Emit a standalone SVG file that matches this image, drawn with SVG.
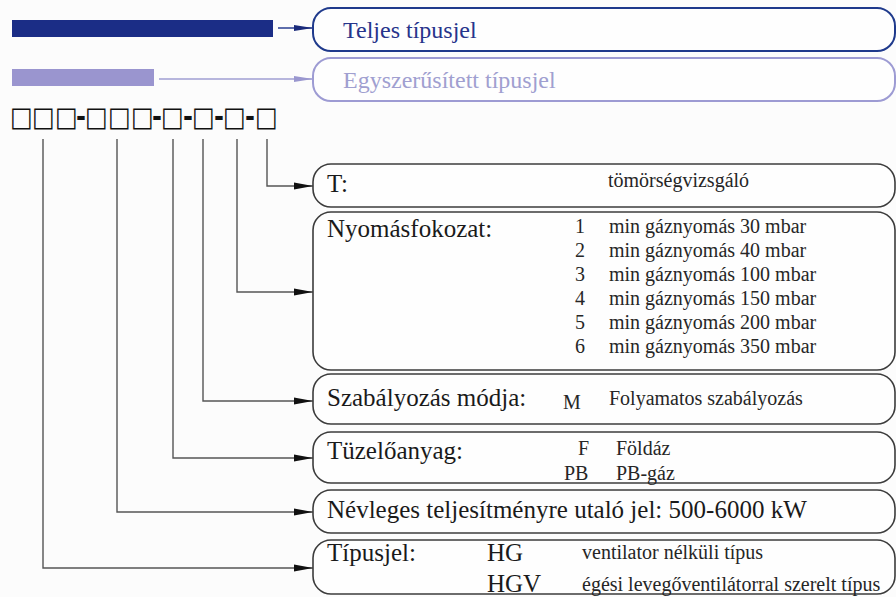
<svg xmlns="http://www.w3.org/2000/svg" width="896" height="597" viewBox="0 0 896 597">
<style>
text{font-family:"Liberation Serif","Times New Roman",serif;fill:#1a1a1a}
.main{font-size:25px}
.sub{font-size:20px;fill:#262626}
.box{fill:#fefefe;stroke:#3c3c3c;stroke-width:1.6}
.conn{fill:none;stroke:#555;stroke-width:1.4}
</style>
<defs>
<marker id="ah" markerUnits="userSpaceOnUse" markerWidth="20" markerHeight="8" refX="19" refY="4" orient="auto"><path d="M0,0.5 L19,4 L0,7.5 z" fill="#111"/></marker>
<marker id="ahBlue" markerUnits="userSpaceOnUse" markerWidth="20" markerHeight="8" refX="19" refY="4" orient="auto"><path d="M0,1 L19,4 L0,7 z" fill="#1a2a7a"/></marker>
<marker id="ahLight" markerUnits="userSpaceOnUse" markerWidth="20" markerHeight="8" refX="19" refY="4" orient="auto"><path d="M0,1 L19,4 L0,7 z" fill="#9a97cf"/></marker>
</defs>
<rect width="896" height="597" fill="#fcfcfc"/>

<g id="bar-full"><rect x="12" y="20" width="261" height="17" fill="#1b2d86"/></g>
<g id="bar-simple"><rect x="12" y="69" width="142" height="17" fill="#9a95cf"/></g>

<g id="node-teljes">
<rect x="313" y="8" width="582" height="43" rx="18" fill="#fefefe" stroke="#1f3a8c" stroke-width="2"/>
<text x="343" y="38" font-size="24" style="fill:#27348b">Teljes típusjel</text>
</g>
<g id="node-egyszerusitett">
<rect x="313" y="58" width="582" height="43" rx="18" fill="#fefefe" stroke="#9d9bd3" stroke-width="2"/>
<text x="343" y="88" font-size="24" style="fill:#a09fd0">Egyszerűsített típusjel</text>
</g>

<g id="code" transform="translate(0,126) scale(1,1.15)">
<text x="10 32 55 76 85 108 131 152 161 183 192 214 223 245 255" y="0" style="font-family:'DejaVu Sans',sans-serif;font-size:24px;font-weight:bold;fill:#111">□□□-□□□-□-□-□-□</text>
</g>

<g id="connectors">
<path class="conn" d="M278 28 H313" style="stroke:#2a3f92" marker-end="url(#ahBlue)"/>
<path class="conn" d="M159 79 H313" style="stroke:#a19fd3" marker-end="url(#ahLight)"/>
<path class="conn" d="M267 139 V186 H313" marker-end="url(#ah)"/>
<path class="conn" d="M237 139 V292 H313" marker-end="url(#ah)"/>
<path class="conn" d="M203 139 V401 H313" marker-end="url(#ah)"/>
<path class="conn" d="M173 139 V458 H313" marker-end="url(#ah)"/>
<path class="conn" d="M117 139 V512 H313" marker-end="url(#ah)"/>
<path class="conn" d="M43 139 V568 H313" marker-end="url(#ah)"/>
</g>

<g id="node-T">
<rect class="box" x="313" y="164" width="582" height="43" rx="18"/>
<text class="main" x="327" y="192">T:</text>
<text class="sub" x="608" y="187">tömörségvizsgáló</text>
</g>

<g id="node-nyomas">
<rect class="box" x="313" y="212" width="582" height="158" rx="18"/>
<text class="main" x="327" y="237">Nyomásfokozat:</text>
<text class="sub" x="575" y="233">1</text><text class="sub" x="609" y="233">min gáznyomás 30 mbar</text>
<text class="sub" x="575" y="257">2</text><text class="sub" x="609" y="257">min gáznyomás 40 mbar</text>
<text class="sub" x="575" y="281">3</text><text class="sub" x="609" y="281">min gáznyomás 100 mbar</text>
<text class="sub" x="575" y="305">4</text><text class="sub" x="609" y="305">min gáznyomás 150 mbar</text>
<text class="sub" x="575" y="329">5</text><text class="sub" x="609" y="329">min gáznyomás 200 mbar</text>
<text class="sub" x="575" y="353">6</text><text class="sub" x="609" y="353">min gáznyomás 350 mbar</text>
</g>

<g id="node-szabalyozas">
<rect class="box" x="313" y="374" width="582" height="50" rx="18"/>
<text class="main" x="327" y="406">Szabályozás módja:</text>
<text class="sub" x="563" y="409">M</text>
<text class="sub" x="609" y="405">Folyamatos szabályozás</text>
</g>

<g id="node-tuzeloanyag">
<rect class="box" x="313" y="432" width="582" height="51" rx="18"/>
<text class="main" x="327" y="459">Tüzelőanyag:</text>
<text class="sub" x="578" y="455">F</text>
<text class="sub" x="616" y="455">Földáz</text>
<text class="sub" x="564" y="480">PB</text>
<text class="sub" x="616" y="480">PB-gáz</text>
</g>

<g id="node-nevleges">
<rect class="box" x="313" y="490" width="582" height="43" rx="18"/>
<text class="main" x="327" y="518">Névleges teljesítményre utaló jel: 500-6000 kW</text>
</g>

<g id="node-tipusjel">
<rect class="box" x="313" y="540" width="582" height="54" rx="18"/>
<text class="main" x="327" y="561">Típusjel:</text>
<text class="main" x="487" y="561">HG</text>
<text class="sub" x="582" y="559">ventilator nélküli típus</text>
<text class="main" x="487" y="592">HGV</text>
<text class="sub" x="582" y="591">égési levegőventilátorral szerelt típus</text>
</g>
</svg>
